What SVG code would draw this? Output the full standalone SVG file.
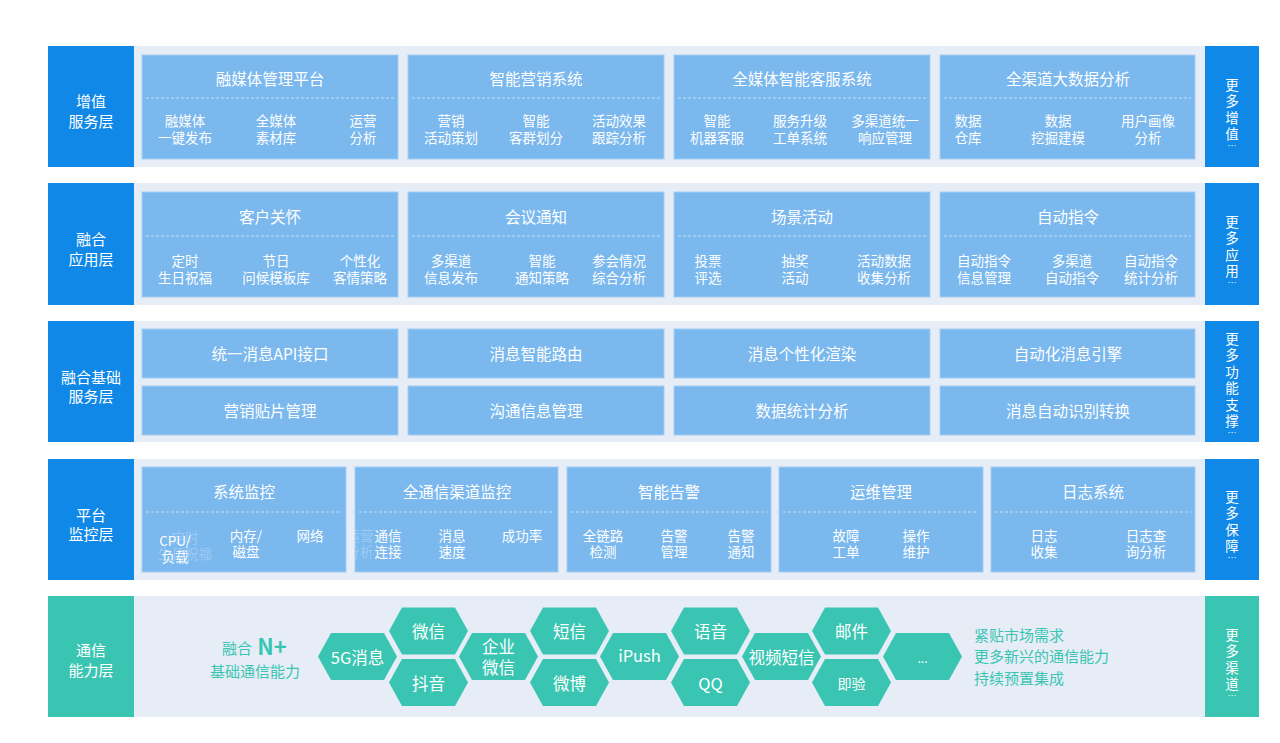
<svg xmlns="http://www.w3.org/2000/svg" width="1280" height="743" viewBox="0 0 1280 743">
<style>
text{font-family:"Noto Sans CJK SC","Noto Sans",sans-serif;dominant-baseline:central;text-anchor:middle}
.panel{fill:#e7edf7}
.side{fill:#1088e8}
.teal{fill:#3ac5b2}
.card{fill:#7ab8ee;stroke:#a3cdf3;stroke-width:1}
.dash{stroke:#c4def7;stroke-width:1;stroke-dasharray:3 2}
.lab{fill:#fff;font-size:15px}
.ttl{fill:#fff;font-size:15.5px}
.sub{fill:#fff;font-size:13.5px}
.vt{fill:#fff;font-size:13.5px}
.dots{fill:#fff;font-size:9px}
.hx{fill:#fff;font-size:16.5px}
.tt{fill:#3ac5b2;font-size:15px}
.tl{fill:#3ac5b2;font-size:15px;text-anchor:start}
.ghost{fill:#fff;font-size:13.5px;opacity:0.25}
</style>
<defs>
<polygon id="hex" points="0,0 13,-23.5 66,-23.5 79,0 66,23.5 13,23.5" fill="#3ac5b2"/>
</defs>
<rect width="1280" height="743" fill="#fff"/>

<!-- Layer 1 -->
<g id="layer1">
<rect class="panel" x="48" y="46" width="1211" height="121"/>
<rect class="side" x="48" y="46" width="86" height="121"/>
<text class="lab" x="91" y="100">增值</text>
<text class="lab" x="91" y="120">服务层</text>
<rect class="side" x="1205" y="46" width="54" height="121"/>
<text class="vt" x="1232" y="84">更</text><text class="vt" x="1232" y="100">多</text><text class="vt" x="1232" y="117">增</text><text class="vt" x="1232" y="133">值</text><text class="dots" x="1232" y="145">…</text>
</g>
<g id="l1c1"><rect class="card" x="142" y="55" width="256" height="104"/><text class="ttl" x="270" y="78">融媒体管理平台</text><line class="dash" x1="146" y1="98" x2="394" y2="98"/>
<text class="sub" x="185" y="120">融媒体</text><text class="sub" x="185" y="137">一键发布</text><text class="sub" x="276" y="120">全媒体</text><text class="sub" x="276" y="137">素材库</text><text class="sub" x="363" y="120">运营</text><text class="sub" x="363" y="137">分析</text></g>
<g id="l1c2"><rect class="card" x="408" y="55" width="256" height="104"/><text class="ttl" x="536" y="78">智能营销系统</text><line class="dash" x1="412" y1="98" x2="660" y2="98"/>
<text class="sub" x="451" y="120">营销</text><text class="sub" x="451" y="137">活动策划</text><text class="sub" x="536" y="120">智能</text><text class="sub" x="536" y="137">客群划分</text><text class="sub" x="619" y="120">活动效果</text><text class="sub" x="619" y="137">跟踪分析</text></g>
<g id="l1c3"><rect class="card" x="674" y="55" width="256" height="104"/><text class="ttl" x="802" y="78">全媒体智能客服系统</text><line class="dash" x1="678" y1="98" x2="926" y2="98"/>
<text class="sub" x="717" y="120">智能</text><text class="sub" x="717" y="137">机器客服</text><text class="sub" x="800" y="120">服务升级</text><text class="sub" x="800" y="137">工单系统</text><text class="sub" x="885" y="120">多渠道统一</text><text class="sub" x="885" y="137">响应管理</text></g>
<g id="l1c4"><rect class="card" x="940" y="55" width="255" height="104"/><text class="ttl" x="1068" y="78">全渠道大数据分析</text><line class="dash" x1="944" y1="98" x2="1191" y2="98"/>
<text class="sub" x="968" y="120">数据</text><text class="sub" x="968" y="137">仓库</text><text class="sub" x="1058" y="120">数据</text><text class="sub" x="1058" y="137">挖掘建模</text><text class="sub" x="1148" y="120">用户画像</text><text class="sub" x="1148" y="137">分析</text></g>

<!-- Layer 2 -->
<g id="layer2">
<rect class="panel" x="48" y="183" width="1211" height="122"/>
<rect class="side" x="48" y="183" width="86" height="122"/>
<text class="lab" x="91" y="238">融合</text>
<text class="lab" x="91" y="258">应用层</text>
<rect class="side" x="1205" y="183" width="54" height="122"/>
<text class="vt" x="1232" y="221">更</text><text class="vt" x="1232" y="237">多</text><text class="vt" x="1232" y="254">应</text><text class="vt" x="1232" y="270">用</text><text class="dots" x="1232" y="282">…</text>
</g>
<g id="l2c1"><rect class="card" x="142" y="192" width="256" height="105"/><text class="ttl" x="270" y="216">客户关怀</text><line class="dash" x1="146" y1="236" x2="394" y2="236"/>
<text class="sub" x="185" y="260">定时</text><text class="sub" x="185" y="277">生日祝福</text><text class="sub" x="276" y="260">节日</text><text class="sub" x="276" y="277">问候模板库</text><text class="sub" x="360" y="260">个性化</text><text class="sub" x="360" y="277">客情策略</text></g>
<g id="l2c2"><rect class="card" x="408" y="192" width="256" height="105"/><text class="ttl" x="536" y="216">会议通知</text><line class="dash" x1="412" y1="236" x2="660" y2="236"/>
<text class="sub" x="451" y="260">多渠道</text><text class="sub" x="451" y="277">信息发布</text><text class="sub" x="542" y="260">智能</text><text class="sub" x="542" y="277">通知策略</text><text class="sub" x="619" y="260">参会情况</text><text class="sub" x="619" y="277">综合分析</text></g>
<g id="l2c3"><rect class="card" x="674" y="192" width="256" height="105"/><text class="ttl" x="802" y="216">场景活动</text><line class="dash" x1="678" y1="236" x2="926" y2="236"/>
<text class="sub" x="708" y="260">投票</text><text class="sub" x="708" y="277">评选</text><text class="sub" x="795" y="260">抽奖</text><text class="sub" x="795" y="277">活动</text><text class="sub" x="884" y="260">活动数据</text><text class="sub" x="884" y="277">收集分析</text></g>
<g id="l2c4"><rect class="card" x="940" y="192" width="255" height="105"/><text class="ttl" x="1068" y="216">自动指令</text><line class="dash" x1="944" y1="236" x2="1191" y2="236"/>
<text class="sub" x="984" y="260">自动指令</text><text class="sub" x="984" y="277">信息管理</text><text class="sub" x="1072" y="260">多渠道</text><text class="sub" x="1072" y="277">自动指令</text><text class="sub" x="1151" y="260">自动指令</text><text class="sub" x="1151" y="277">统计分析</text></g>

<!-- Layer 3 -->
<g id="layer3">
<rect class="panel" x="48" y="321" width="1211" height="121"/>
<rect class="side" x="48" y="321" width="86" height="121"/>
<text class="lab" x="91" y="376">融合基础</text>
<text class="lab" x="91" y="395">服务层</text>
<rect class="side" x="1205" y="321" width="54" height="121"/>
<text class="vt" x="1232" y="338">更</text><text class="vt" x="1232" y="354">多</text><text class="vt" x="1232" y="371">功</text><text class="vt" x="1232" y="387">能</text><text class="vt" x="1232" y="404">支</text><text class="vt" x="1232" y="420">撑</text><text class="dots" x="1232" y="432">…</text>
</g>
<g id="l3a"><rect class="card" x="142" y="329" width="256" height="49"/><text class="ttl" x="270" y="353">统一消息API接口</text></g>
<g id="l3b"><rect class="card" x="408" y="329" width="256" height="49"/><text class="ttl" x="536" y="353">消息智能路由</text></g>
<g id="l3c"><rect class="card" x="674" y="329" width="256" height="49"/><text class="ttl" x="802" y="353">消息个性化渲染</text></g>
<g id="l3d"><rect class="card" x="940" y="329" width="255" height="49"/><text class="ttl" x="1068" y="353">自动化消息引擎</text></g>
<g id="l3e"><rect class="card" x="142" y="386" width="256" height="49"/><text class="ttl" x="270" y="410">营销贴片管理</text></g>
<g id="l3f"><rect class="card" x="408" y="386" width="256" height="49"/><text class="ttl" x="536" y="410">沟通信息管理</text></g>
<g id="l3g"><rect class="card" x="674" y="386" width="256" height="49"/><text class="ttl" x="802" y="410">数据统计分析</text></g>
<g id="l3h"><rect class="card" x="940" y="386" width="255" height="49"/><text class="ttl" x="1068" y="410">消息自动识别转换</text></g>

<!-- Layer 4 -->
<g id="layer4">
<rect class="panel" x="48" y="459" width="1211" height="121"/>
<rect class="side" x="48" y="459" width="86" height="121"/>
<text class="lab" x="91" y="514">平台</text>
<text class="lab" x="91" y="533">监控层</text>
<rect class="side" x="1205" y="459" width="54" height="121"/>
<text class="vt" x="1232" y="496">更</text><text class="vt" x="1232" y="512">多</text><text class="vt" x="1232" y="529">保</text><text class="vt" x="1232" y="545">障</text><text class="dots" x="1232" y="557">…</text>
</g>
<g id="l4c1"><rect class="card" x="142" y="467" width="204" height="105"/><text class="ttl" x="244" y="491">系统监控</text><line class="dash" x1="146" y1="512" x2="342" y2="512"/>
<text class="ghost" x="185" y="537">定时</text><text class="ghost" x="185" y="553">生日祝福</text>
<text class="sub" x="175" y="540">CPU/</text><text class="sub" x="175" y="556">负载</text><text class="sub" x="246" y="535">内存/</text><text class="sub" x="246" y="551">磁盘</text><text class="sub" x="310" y="535">网络</text></g>
<g id="l4c2"><rect class="card" x="355" y="467" width="203" height="105"/><text class="ttl" x="457" y="491">全通信渠道监控</text><line class="dash" x1="359" y1="512" x2="554" y2="512"/>
<text class="ghost" x="360" y="535">运营</text><text class="ghost" x="360" y="551">分析</text>
<text class="sub" x="388" y="535">通信</text><text class="sub" x="388" y="551">连接</text><text class="sub" x="452" y="535">消息</text><text class="sub" x="452" y="551">速度</text><text class="sub" x="522" y="535">成功率</text></g>
<g id="l4c3"><rect class="card" x="567" y="467" width="204" height="105"/><text class="ttl" x="669" y="491">智能告警</text><line class="dash" x1="571" y1="512" x2="767" y2="512"/>
<text class="sub" x="603" y="535">全链路</text><text class="sub" x="603" y="551">检测</text><text class="sub" x="674" y="535">告警</text><text class="sub" x="674" y="551">管理</text><text class="sub" x="741" y="535">告警</text><text class="sub" x="741" y="551">通知</text></g>
<g id="l4c4"><rect class="card" x="779" y="467" width="204" height="105"/><text class="ttl" x="881" y="491">运维管理</text><line class="dash" x1="783" y1="512" x2="979" y2="512"/>
<text class="sub" x="846" y="535">故障</text><text class="sub" x="846" y="551">工单</text><text class="sub" x="916" y="535">操作</text><text class="sub" x="916" y="551">维护</text></g>
<g id="l4c5"><rect class="card" x="991" y="467" width="204" height="105"/><text class="ttl" x="1093" y="491">日志系统</text><line class="dash" x1="995" y1="512" x2="1191" y2="512"/>
<text class="sub" x="1044" y="535">日志</text><text class="sub" x="1044" y="551">收集</text><text class="sub" x="1146" y="535">日志查</text><text class="sub" x="1146" y="551">询分析</text></g>

<!-- Layer 5 -->
<g id="layer5">
<rect class="panel" x="48" y="596" width="1211" height="121"/>
<rect class="teal" x="48" y="596" width="86" height="121"/>
<text class="lab" x="91" y="649">通信</text>
<text class="lab" x="91" y="669">能力层</text>
<rect class="teal" x="1205" y="596" width="54" height="121"/>
<text class="vt" x="1232" y="634">更</text><text class="vt" x="1232" y="650">多</text><text class="vt" x="1232" y="667">渠</text><text class="vt" x="1232" y="683">道</text><text class="dots" x="1232" y="695">…</text>
<text class="tt" x="237" y="647">融合</text><text x="272" y="645" fill="#3ac5b2" font-size="22" font-weight="bold" font-family="Liberation Sans, Arial, sans-serif">N+</text>
<text class="tt" x="255" y="670">基础通信能力</text>
<text class="tl" x="974" y="634">紧贴市场需求</text>
<text class="tl" x="974" y="655">更多新兴的通信能力</text>
<text class="tl" x="974" y="677">持续预置集成</text>
</g>
<g id="hex-5g"><use href="#hex" x="318" y="656.5"/><text class="hx" x="357.5" y="656.5">5G消息</text></g>
<g id="hex-wx"><use href="#hex" x="389" y="631"/><text class="hx" x="428.5" y="631">微信</text></g>
<g id="hex-dy"><use href="#hex" x="389" y="682.5"/><text class="hx" x="428.5" y="682.5">抖音</text></g>
<g id="hex-qywx"><use href="#hex" x="459" y="656.5"/><text class="hx" x="498.5" y="646">企业</text><text class="hx" x="498.5" y="667">微信</text></g>
<g id="hex-dx"><use href="#hex" x="530" y="631"/><text class="hx" x="569.5" y="631">短信</text></g>
<g id="hex-wb"><use href="#hex" x="530" y="682.5"/><text class="hx" x="569.5" y="682.5">微博</text></g>
<g id="hex-ipush"><use href="#hex" x="600" y="656.5"/><text class="hx" x="639.5" y="655">iPush</text></g>
<g id="hex-yy"><use href="#hex" x="671" y="631"/><text class="hx" x="710.5" y="631">语音</text></g>
<g id="hex-qq"><use href="#hex" x="671" y="682.5"/><text class="hx" x="710.5" y="682.5">QQ</text></g>
<g id="hex-spdx"><use href="#hex" x="742" y="656.5"/><text class="hx" x="781.5" y="656.5">视频短信</text></g>
<g id="hex-yj"><use href="#hex" x="812" y="631"/><text class="hx" x="851.5" y="631">邮件</text></g>
<g id="hex-jy"><use href="#hex" x="812" y="682.5"/><text class="hx" x="851.5" y="682.5" style="font-size:14px">即验</text></g>
<g id="hex-more"><use href="#hex" x="883" y="656.5"/><text class="hx" x="922.5" y="657" style="font-size:12px">...</text></g>
<g id="connectors"></g>
</svg>
